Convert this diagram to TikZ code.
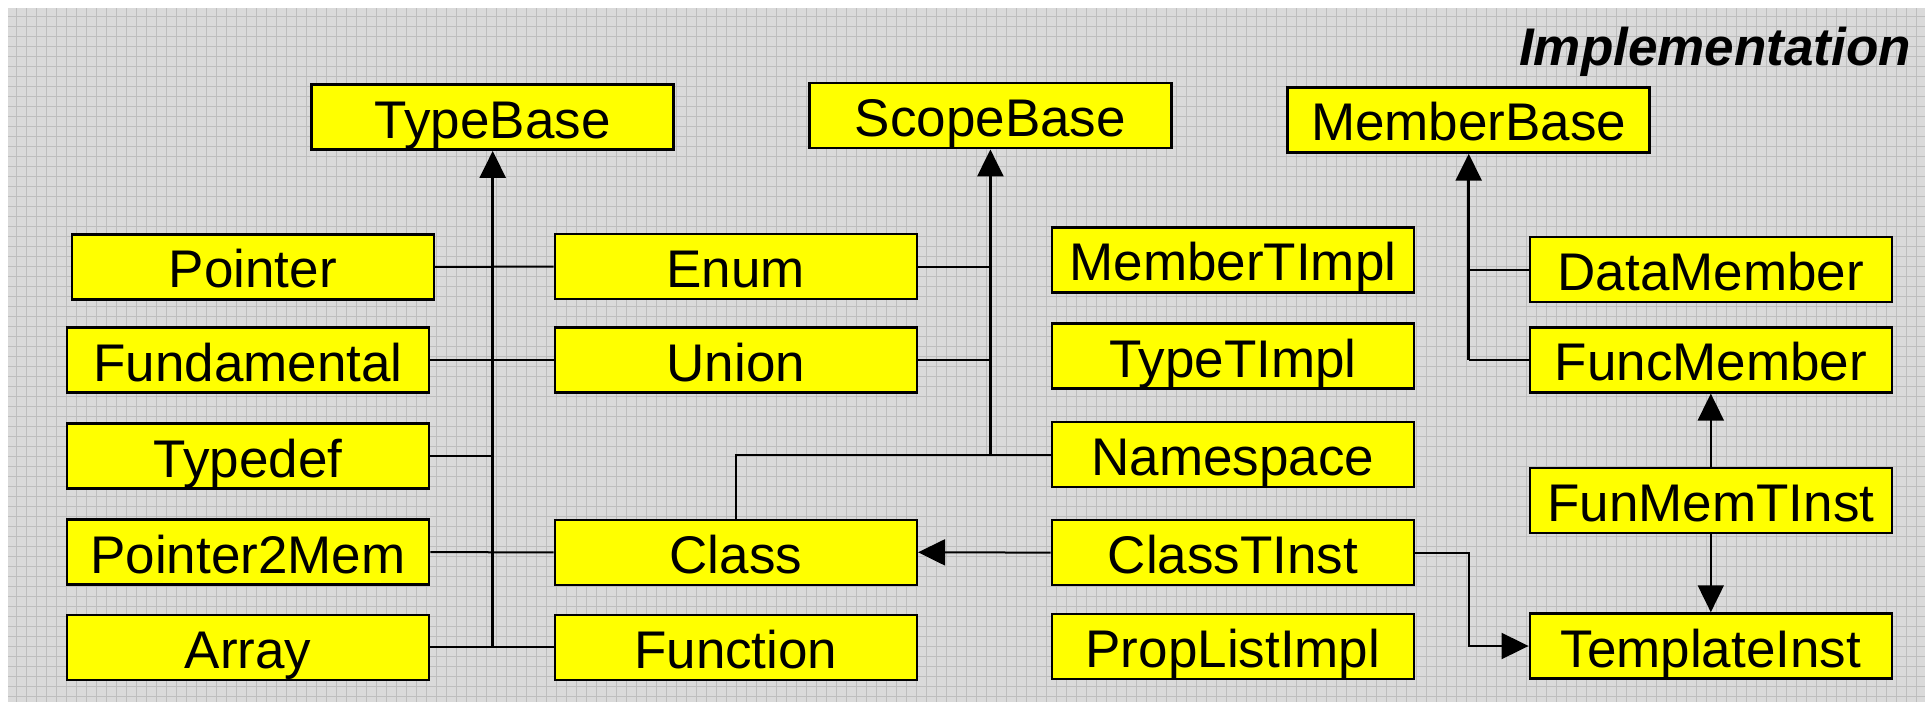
\documentclass[tikz,border=0pt]{standalone}
\usepackage{fontspec}
\setmainfont{Liberation Sans}
\usetikzlibrary{arrows.meta}

\definecolor{panelgrey}{RGB}{218,218,218}
\definecolor{gridgrey}{RGB}{190,190,190}
\definecolor{boxyellow}{RGB}{255,255,0}

\tikzset{
  classbox/.style={draw=black, fill=boxyellow, line width=2.5pt,
    minimum width=362pt, minimum height=65pt, inner sep=0pt,
    text height=42pt, text depth=0pt,
    font=\fontsize{53}{60}\selectfont},
  link/.style={draw=black, line width=2pt},
  stem/.style={draw=black, line width=2.6pt,
    -{Triangle[length=27pt, width=26pt]}},
  gridline/.style={draw=gridgrey, line width=0.9pt},
}

\begin{document}
\begin{tikzpicture}[x=1pt, y=-1pt]
  \useasboundingbox (0,0) rectangle (1930,703);
  \fill[white] (0,0) rectangle (1930,703);

  % grey panel with its grid
  \fill[panelgrey] (8.3,8.3) rectangle (1925,701.7);
  \foreach \gx in {16.7,26.7,...,1920} {
    \draw[gridline] (\gx,8.3) -- (\gx,701.7);
  }
  \foreach \gy in {16.7,26.7,...,700} {
    \draw[gridline] (8.3,\gy) -- (1925,\gy);
  }

  % title
  \node[anchor=base east, inner sep=0pt,
        font=\fontsize{53}{60}\selectfont\bfseries\itshape]
        (title) at (1911,66) {Implementation};

  % base classes
  \node[classbox] (TypeBase)   at (492.7,117.2) {TypeBase};
  \node[classbox] (ScopeBase)  at (990.4,115.7) {ScopeBase};
  \node[classbox] (MemberBase) at (1468.7,120)  {MemberBase};

  % type column
  \node[classbox] (Pointer)     at (252.9,266.8) {Pointer};
  \node[classbox] (Fundamental) at (248,360)     {Fundamental};
  \node[classbox] (Typedef)     at (248,456.2)   {Typedef};
  \node[classbox] (Pointer2Mem) at (248,552.2)   {Pointer2Mem};
  \node[classbox] (Array)       at (248,647.4)   {Array};

  % type + scope column
  \node[classbox] (Enum)     at (735.8,266.7) {Enum};
  \node[classbox] (Union)    at (735.8,360)   {Union};
  \node[classbox] (Class)    at (735.8,552.3) {Class};
  \node[classbox] (Function) at (735.8,647.4) {Function};

  % implementation column
  \node[classbox] (MemberTImpl)  at (1232.9,259.8) {MemberTImpl};
  \node[classbox] (TypeTImpl)    at (1232.9,356)   {TypeTImpl};
  \node[classbox] (Namespace)    at (1232.9,454.6) {Namespace};
  \node[classbox] (ClassTInst)   at (1232.9,552.6) {ClassTInst};
  \node[classbox] (PropListImpl) at (1232.9,646.7) {PropListImpl};

  % member column
  \node[classbox] (DataMember)   at (1710.8,269.6) {DataMember};
  \node[classbox] (FuncMember)   at (1710.8,359.8) {FuncMember};
  \node[classbox] (FunMemTInst)  at (1710.8,500.5) {FunMemTInst};
  \node[classbox] (TemplateInst) at (1710.8,646)   {TemplateInst};

  % TypeBase hierarchy
  \draw[stem] (Array.east -| TypeBase.south) -- (TypeBase.south);
  \draw[link] (Pointer.east) -- (Enum.west);
  \draw[link] (Fundamental.east) -- (Union.west);
  \draw[link] (Typedef.east) -- (Typedef.east -| TypeBase.south);
  \draw[link] (Pointer2Mem.east) -- (Class.west);
  \draw[link] (Array.east) -- (Function.west);

  % ScopeBase hierarchy
  \draw[stem] (Namespace.west -| ScopeBase.south) -- (ScopeBase.south);
  \draw[link] (Enum.east) -- (Enum.east -| ScopeBase.south);
  \draw[link] (Union.east) -- (Union.east -| ScopeBase.south);
  \draw[link] (Class.north) |- (Namespace.west);

  % MemberBase hierarchy
  \draw[stem] (FuncMember.west -| MemberBase.south) -- (MemberBase.south);
  \draw[link] (DataMember.west) -- (DataMember.west -| MemberBase.south);
  \draw[link] (FuncMember.west) -- (FuncMember.west -| MemberBase.south);

  % template instances
  \draw[stem, line width=2pt] (ClassTInst.west) -- (Class.east);
  \draw[stem, line width=2pt] (ClassTInst.east) -- (ClassTInst.east -| MemberBase.south)
        |- (TemplateInst.west);
  \draw[stem, line width=2pt] (FunMemTInst.north) -- (FuncMember.south);
  \draw[stem, line width=2pt] (FunMemTInst.south) -- (TemplateInst.north);
\end{tikzpicture}
\end{document}
